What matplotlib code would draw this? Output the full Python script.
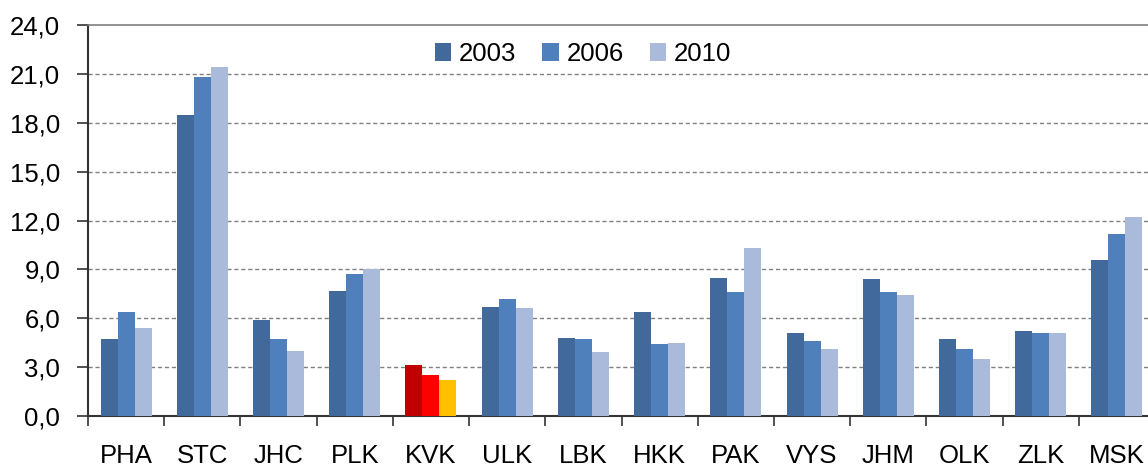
import matplotlib
matplotlib.use("Agg")
import matplotlib.pyplot as plt
import numpy as np

plt.rcParams['font.family'] = ['Liberation Sans', 'DejaVu Sans']

regions = ['PHA', 'STC', 'JHC', 'PLK', 'KVK', 'ULK', 'LBK',
           'HKK', 'PAK', 'VYS', 'JHM', 'OLK', 'ZLK', 'MSK']
years = ['2003', '2006', '2010']
v2003 = [4.7, 18.5, 5.9, 7.7, 3.1, 6.7, 4.8, 6.4, 8.5, 5.1, 8.4, 4.7, 5.2, 9.6]
v2006 = [6.4, 20.8, 4.7, 8.7, 2.5, 7.2, 4.7, 4.4, 7.6, 4.6, 7.6, 4.1, 5.1, 11.2]
v2010 = [5.4, 21.4, 4.0, 9.0, 2.2, 6.6, 3.9, 4.5, 10.3, 4.1, 7.4, 3.5, 5.1, 12.2]
yticks = [0, 3, 6, 9, 12, 15, 18, 21, 24]

colors = ['#41699C', '#4F80BC', '#AABADA']
highlight = {'KVK': ['#C00000', '#FF0000', '#FFC000']}

fig = plt.figure(figsize=(11.48, 4.66), dpi=100)
ax = fig.add_axes([88 / 1148, 50 / 466, 1067 / 1148, 391 / 466])

x = np.arange(len(regions))
w = 0.223
for i, (vals, yr) in enumerate(zip([v2003, v2006, v2010], years)):
    cols = [highlight[r][i] if r in highlight else colors[i] for r in regions]
    ax.bar(x + (i - 1) * w, vals, w, color=cols, label=yr, zorder=3)

ax.set_xlim(-0.5, len(regions) - 0.5)
ax.set_ylim(0, 24)
ax.set_yticks(yticks)
ax.set_yticklabels([f'{t:.1f}'.replace('.', ',') for t in yticks], fontsize=18.5)
ax.tick_params(axis='y', length=8, width=1.2, color='#333333', pad=12)

ax.set_xticks(x)
ax.set_xticklabels(regions, fontsize=18.5)
ax.set_xticks(np.arange(len(regions) + 1) - 0.5, minor=True)
ax.tick_params(axis='x', which='major', length=0, pad=20)
ax.tick_params(axis='x', which='minor', length=7, width=1.2, color='#333333')

for y in yticks[1:-1]:
    ax.axhline(y, color='#808080', lw=1, ls=(0, (3, 2)), zorder=1)

ax.spines['left'].set_color('#333333')
ax.spines['left'].set_linewidth(1.5)
ax.spines['bottom'].set_color('#333333')
ax.spines['bottom'].set_linewidth(1.5)
ax.spines['top'].set_color('#808080')
ax.spines['top'].set_linewidth(1.2)
ax.spines['right'].set_visible(False)

ax.legend(loc='center', bbox_to_anchor=(583 / 1148, 1 - 54 / 466),
          bbox_transform=fig.transFigure, ncol=3, frameon=False, fontsize=18.5,
          handlelength=0.65, handleheight=0.65, handletextpad=0.3, columnspacing=1.0)

fig.savefig('out.png', dpi=100)
